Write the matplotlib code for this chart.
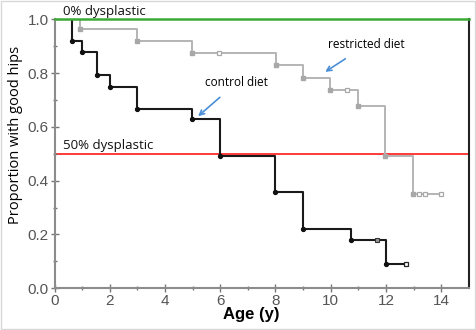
import matplotlib.pyplot as plt

# Kaplan-Meier style data
control_times = [0, 0.63, 0.98, 1.53, 2.01, 2.99, 4.99, 6.0, 8.0, 9.0, 10.74, 12.0]
control_surv = [1.0, 0.921, 0.878, 0.793, 0.75, 0.667, 0.628, 0.49, 0.356, 0.22, 0.179, 0.089]
control_end = 12.72
control_cens_t = [11.67, 12.72]
control_cens_s = [0.179, 0.089]

restricted_times = [0, 0.92, 3.0, 4.99, 8.01, 9.0, 9.98, 10.98, 11.97, 12.96]
restricted_surv = [1.0, 0.963, 0.92, 0.874, 0.829, 0.783, 0.737, 0.679, 0.493, 0.35]
restricted_end = 14.0
restricted_cens_t = [5.96, 10.6, 13.18, 13.42, 14.0]
restricted_cens_s = [0.874, 0.737, 0.35, 0.35, 0.35]

plt.rcParams['font.family'] = ['Liberation Sans', 'DejaVu Sans']
label_font = ['Liberation Sans Narrow', 'Open Sans', 'DejaVu Sans']

fig = plt.figure(figsize=(4.76, 3.30), dpi=100)
ax = fig.add_axes([0.1145, 0.127, 0.8705, 0.814])

# reference lines
ax.axhline(1.0, color='#3aaa35', lw=1.8, zorder=6, clip_on=False)
ax.axhline(0.5, color='#ff2a2a', lw=1.3, zorder=1)

# restricted diet (gray)
ax.step(restricted_times + [restricted_end], restricted_surv + [restricted_surv[-1]],
        where='post', color='#b4b4b4', lw=1.4, zorder=2)
ax.plot(restricted_times[1:], restricted_surv[1:], 's', color='#a8a8a8', ms=2.5, zorder=3)
ax.plot(restricted_cens_t, restricted_cens_s, 's', mfc='white', mec='#a8a8a8', ms=3.5, mew=0.9, zorder=3)

# control diet (black)
ax.step(control_times + [control_end], control_surv + [control_surv[-1]],
        where='post', color='#1a1a1a', lw=1.5, zorder=4)
ax.plot(control_times[1:], control_surv[1:], 'o', color='#111111', ms=2.8, zorder=5)
ax.plot(control_cens_t[:1], control_cens_s[:1], 's', mfc='#999999', mec='#333333', ms=3.5, mew=0.8, zorder=5)
ax.plot(control_cens_t[1:], control_cens_s[1:], 's', mfc='white', mec='#222222', ms=3.5, mew=0.9, zorder=5)

# text labels
ax.text(0.3, 1.007, '0% dysplastic', fontsize=9.5, family=['Open Sans', 'DejaVu Sans'],
        va='bottom', ha='left', color='#111111')
ax.text(0.3, 0.507, '50% dysplastic', fontsize=9.5, family=['Open Sans', 'DejaVu Sans'],
        va='bottom', ha='left', color='#111111')
ax.annotate('control diet', xy=(5.2, 0.64), xytext=(6.6, 0.765), fontsize=8.5,
            family=['Open Sans', 'DejaVu Sans'], ha='center', va='center',
            arrowprops=dict(arrowstyle='->', color='#4a8fd6', lw=1.2, shrinkA=6, shrinkB=0))
ax.annotate('restricted diet', xy=(9.8, 0.805), xytext=(11.3, 0.905), fontsize=8.5,
            family=['Open Sans', 'DejaVu Sans'], ha='center', va='center',
            arrowprops=dict(arrowstyle='->', color='#4a8fd6', lw=1.2, shrinkA=6, shrinkB=0))

ax.set_xlim(0, 15)
ax.set_ylim(0, 1.0)
ax.set_xticks([0, 2, 4, 6, 8, 10, 12, 14])
ax.set_xticks(range(1, 15, 2), minor=True)
ax.set_yticks([0.0, 0.2, 0.4, 0.6, 0.8, 1.0])
ax.set_yticks([0.1, 0.3, 0.5, 0.7, 0.9], minor=True)
ax.set_yticklabels(['0.0', '0.2', '0.4', '0.6', '0.8', '1.0'])
ax.tick_params(which='major', direction='inout', length=6, width=1, colors='#777777',
               labelcolor='#555555', labelsize=11, pad=1)
ax.tick_params(which='minor', direction='inout', length=3, width=1, colors='#777777')

ax.set_xlabel('Age (y)', fontsize=12, fontweight='bold')
ax.xaxis.set_label_coords(0.476, -0.07)
ax.set_ylabel('Proportion with good hips', fontsize=10.5, family=label_font,
              va='center')
ax.yaxis.set_label_coords(-0.095, 0.57)

ax.spines['top'].set_visible(False)
ax.spines['left'].set_color('#8c8c8c')
ax.spines['bottom'].set_color('#8c8c8c')
ax.spines['right'].set_color('#222222')
for s in ['left', 'bottom', 'right']:
    ax.spines[s].set_linewidth(1.5)

# light frame around the whole picture
fig.patches.append(plt.Rectangle((0.003, 0.003), 0.994, 0.994, transform=fig.transFigure,
                                 fill=False, edgecolor='#d8d8d8', lw=1))

fig.savefig('out.png', dpi=100)
